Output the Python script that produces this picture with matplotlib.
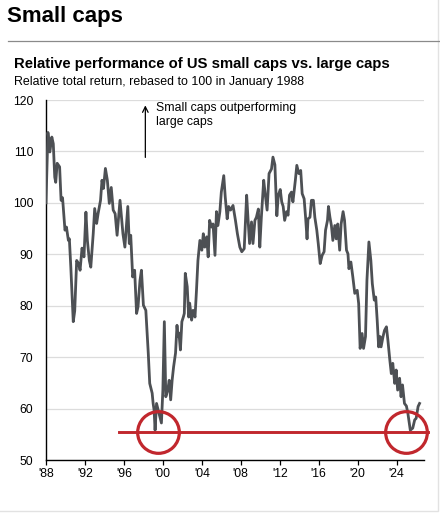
import matplotlib
matplotlib.use("Agg")
import matplotlib.pyplot as plt
from matplotlib.patches import Rectangle

plt.rcParams['font.family'] = ['Liberation Sans', 'DejaVu Sans']

# Relative total return (small vs. large caps); decimal years
years = [
    1988.0, 1988.2, 1988.4, 1988.6, 1988.75, 1988.9, 1989.0, 1989.15, 1989.4, 1989.55,
    1989.7, 1989.95, 1990.1, 1990.3, 1990.4, 1990.55, 1990.8, 1990.95, 1991.15, 1991.35,
    1991.5, 1991.7, 1991.9, 1992.1, 1992.25, 1992.45, 1992.6, 1992.85, 1993.0, 1993.2,
    1993.35, 1993.6, 1993.75, 1993.9, 1994.1, 1994.3, 1994.5, 1994.7, 1994.9, 1995.1,
    1995.3, 1995.6, 1995.9, 1996.1, 1996.4, 1996.55, 1996.7, 1996.9, 1997.1, 1997.3,
    1997.45, 1997.65, 1997.8, 1998.0, 1998.25, 1998.5, 1998.65, 1998.9, 1999.0, 1999.1,
    1999.2, 1999.35, 1999.6, 1999.85, 2000.0, 2000.15, 2000.3, 2000.5, 2000.65, 2000.8,
    2000.95, 2001.1, 2001.3, 2001.45, 2001.55, 2001.65, 2001.8, 2001.95, 2002.1, 2002.2,
    2002.3, 2002.5, 2002.65, 2002.75, 2002.95, 2003.1, 2003.3, 2003.45, 2003.6, 2003.8,
    2004.0, 2004.15, 2004.3, 2004.5, 2004.65, 2004.8, 2005.0, 2005.15, 2005.35, 2005.5,
    2005.65, 2005.85, 2006.0, 2006.25, 2006.4, 2006.6, 2006.75, 2006.95, 2007.2, 2007.45,
    2007.65, 2007.9, 2008.1, 2008.35, 2008.6, 2008.75, 2008.9, 2009.1, 2009.25, 2009.45,
    2009.6, 2009.8, 2009.95, 2010.1, 2010.35, 2010.5, 2010.7, 2010.9, 2011.15, 2011.3,
    2011.5, 2011.7, 2011.85, 2012.05, 2012.2, 2012.35, 2012.5, 2012.7, 2012.85, 2013.0,
    2013.2, 2013.35, 2013.6, 2013.75, 2013.95, 2014.15, 2014.3, 2014.5, 2014.65, 2014.8,
    2014.9, 2015.1, 2015.25, 2015.45, 2015.6, 2015.8, 2015.95, 2016.15, 2016.35, 2016.55,
    2016.7, 2016.9, 2017.0, 2017.15, 2017.3, 2017.45, 2017.65, 2017.8, 2017.95, 2018.15,
    2018.3, 2018.5, 2018.65, 2018.85, 2019.0, 2019.1, 2019.3, 2019.5, 2019.7, 2019.95,
    2020.1, 2020.25, 2020.45, 2020.6, 2020.8, 2020.95, 2021.15, 2021.35, 2021.5, 2021.7,
    2021.85, 2022.0, 2022.15, 2022.3, 2022.4, 2022.6, 2022.75, 2022.95, 2023.1, 2023.3,
    2023.45, 2023.6, 2023.8, 2023.95, 2024.1, 2024.3, 2024.45, 2024.6, 2024.8, 2025.0,
    2025.15, 2025.4, 2025.65, 2025.85, 2026.0, 2026.2, 2026.35,
]
values = [
    100.0, 113.7, 109.9, 112.8, 111.5, 105.0, 104.0, 107.7, 107.0, 100.5,
    101.0, 94.7, 95.3, 92.7, 93.0, 87.5, 76.9, 79.0, 88.8, 88.2,
    86.9, 91.2, 89.5, 98.2, 92.7, 88.8, 87.5, 94.0, 98.9, 96.0,
    97.9, 100.5, 104.4, 102.8, 106.7, 104.4, 99.9, 103.0, 98.6, 97.9,
    93.7, 100.5, 94.0, 91.4, 99.3, 92.1, 93.7, 85.6, 86.9, 78.5,
    79.8, 84.9, 86.9, 80.1, 79.1, 70.8, 64.9, 63.0, 61.0, 59.7,
    55.8, 61.0, 59.1, 57.2, 63.6, 76.9, 62.3, 63.6, 65.5, 61.7,
    65.5, 68.1, 70.8, 76.2, 74.0, 74.7, 71.4, 76.9, 77.8, 78.5,
    86.3, 83.7, 77.8, 80.5, 77.2, 79.1, 77.8, 83.0, 88.8, 92.7,
    90.8, 94.0, 91.4, 93.4, 89.5, 96.6, 95.3, 95.9, 89.8, 98.3,
    95.6, 98.3, 102.1, 105.3, 101.2, 96.9, 99.3, 98.6, 99.5, 96.6,
    94.0, 91.4, 90.5, 91.1, 101.5, 96.6, 92.1, 96.3, 92.1, 96.6,
    97.2, 98.8, 91.4, 96.9, 104.4, 101.8, 98.6, 105.7, 106.6, 108.9,
    107.4, 97.5, 101.5, 102.6, 100.2, 99.3, 96.6, 98.3, 97.6, 101.5,
    102.1, 100.2, 104.4, 107.3, 105.7, 106.3, 101.8, 100.8, 97.2, 93.0,
    96.9, 97.2, 100.5, 100.5, 97.2, 94.7, 92.1, 88.2, 89.8, 90.5,
    94.7, 96.6, 99.3, 97.2, 95.6, 92.7, 95.6, 93.0, 95.9, 90.8,
    95.9, 98.3, 96.6, 90.8, 90.1, 87.2, 88.5, 85.6, 82.4, 83.0,
    80.4, 71.7, 74.6, 71.7, 74.0, 85.0, 92.4, 88.8, 84.3, 81.1,
    81.7, 77.2, 72.0, 74.0, 72.0, 74.0, 75.2, 75.9, 73.3, 69.4,
    66.8, 68.8, 64.9, 67.5, 63.6, 65.9, 62.3, 64.6, 61.0, 60.5,
    59.1, 55.8, 56.2, 57.8, 58.1, 60.4, 61.0,
]

tick_years = [1988, 1992, 1996, 2000, 2004, 2008, 2012, 2016, 2020, 2024]
tick_labels = ["'88", "'92", "'96", "'00", "'04", "'08", "'12", "'16", "'20", "'24"]

floor_level = 55.4
floor_start, floor_end = 1995.45, 2027.25
circle_years = [1999.45, 2024.95]

line_color = '#4d5054'
red = '#c1272d'

fig = plt.figure(figsize=(4.4, 5.13), dpi=100)
ax = fig.add_axes([0.1045, 0.1033, 0.859, 0.7017])

ax.plot(years, values, color=line_color, lw=2.0, solid_joinstyle='round', zorder=3)

# red floor line and circles
ax.plot([floor_start, floor_end], [floor_level, floor_level], color=red, lw=2.1,
        clip_on=False, zorder=4)
ax.plot(circle_years, [floor_level] * len(circle_years), 'o', ms=30, mfc='none',
        mec=red, mew=2.3, clip_on=False, zorder=4)

# arrow annotation
ax.annotate('', xy=(1998.2, 119.5), xytext=(1998.2, 108.3),
            arrowprops=dict(arrowstyle='->', color='black', lw=0.9,
                            mutation_scale=10))
ax.text(1999.25, 115.1, 'Small caps outperforming\nlarge caps', fontsize=8.8,
        va='baseline', ha='left', linespacing=1.2)

ax.set_xlim(1988, 2026.8)
ax.set_ylim(50, 120)
ax.set_yticks(range(50, 121, 10))
ax.set_xticks(tick_years)
ax.set_xticklabels(tick_labels)
ax.tick_params(axis='y', length=0, pad=9, labelsize=8.8)
ax.tick_params(axis='x', length=3.5, width=0.9, pad=2, labelsize=8.8)
ax.grid(axis='y', color='#dcdcdc', lw=0.9)
ax.set_axisbelow(True)
for side in ['top', 'right']:
    ax.spines[side].set_visible(False)
ax.spines['left'].set_linewidth(1.0)
ax.spines['bottom'].set_linewidth(1.0)

# headings
fig.text(0.016, 0.9565, 'Small caps', fontsize=16, fontweight='bold', va='baseline')
fig.add_artist(plt.Line2D([0.018, 1.0], [0.920, 0.920], color='#8a8a8a', lw=0.9))
fig.text(0.032, 0.867, 'Relative performance of US small caps vs. large caps',
         fontsize=10.7, fontweight='bold', va='baseline')
fig.text(0.032, 0.834, 'Relative total return, rebased to 100 in January 1988',
         fontsize=8.9, va='baseline')

# light card frame
fig.add_artist(Rectangle((-0.01, 0.003), 1.005, 1.05, transform=fig.transFigure,
                         fill=False, edgecolor='#e2e2e2', lw=1.0))

fig.savefig('out.png', dpi=100)
